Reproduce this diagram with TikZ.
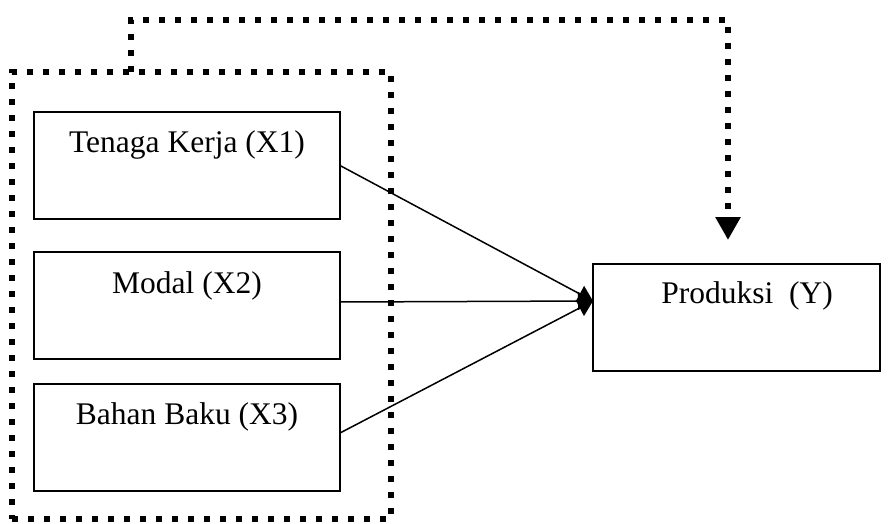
\documentclass[tikz,border=0pt]{standalone}
\usepackage{fontspec}
\setmainfont{Liberation Serif}
\usetikzlibrary{arrows.meta,calc}
\begin{document}
\begin{tikzpicture}[x=1pt,y=-1pt,
  varbox/.style={draw,line width=1.5pt,rectangle,minimum width=306pt,
    minimum height=107pt,inner sep=0pt,outer sep=0pt,anchor=north west},
  boxtext/.style={anchor=base,inner sep=0pt,font=\fontsize{31.5}{36}\selectfont},
  dotline/.style={line width=6pt,dash pattern=on 6pt off 10pt},
  link/.style={line width=1.5pt,-{Triangle[length=15pt,width=18pt]}},
]
\useasboundingbox (0,0) rectangle (891,524);

% independent variables
\node[varbox] (x1) at (34,112) {};
\node[varbox] (x2) at (34,252) {};
\node[varbox] (x3) at (34,384) {};
% dependent variable
\node[varbox,minimum width=287pt] (y) at (593,264) {};

\node[boxtext] (x1t) at ($(x1.north)+(0,41)$) {Tenaga Kerja (X1)};
\node[boxtext] (x2t) at ($(x2.north)+(0,41)$) {Modal (X2)};
\node[boxtext] (x3t) at ($(x3.north)+(0,40)$) {Bahan Baku (X3)};
\node[boxtext] (yt) at (747,303) {Produksi\ \ (Y)};

% dotted frame around X1..X3 (simultaneous effect)
\node[draw,dotline,rectangle,minimum width=379pt,minimum height=447pt,
  inner sep=0pt,outer sep=0pt] (grp) at (201.5,295.5) {};

% simultaneous path
\coordinate (fbstart) at ($(grp.north west)+(119,0)$);
\coordinate (fbtip) at (728,240);
\draw[dotline,-{Triangle[length=23pt,width=24pt]}]
  (fbstart) -- ++(0,-52) -| (fbtip);

% partial paths
\coordinate (hub) at ($(y.west)+(0,-16.5)$);
\draw[link] (x1.east) -- (hub);
\draw[link] ($(x2.east)+(0,-3.5)$) -- (hub);
\draw[link] ($(x3.east)+(0,-4.5)$) -- (hub);
\end{tikzpicture}
\end{document}
